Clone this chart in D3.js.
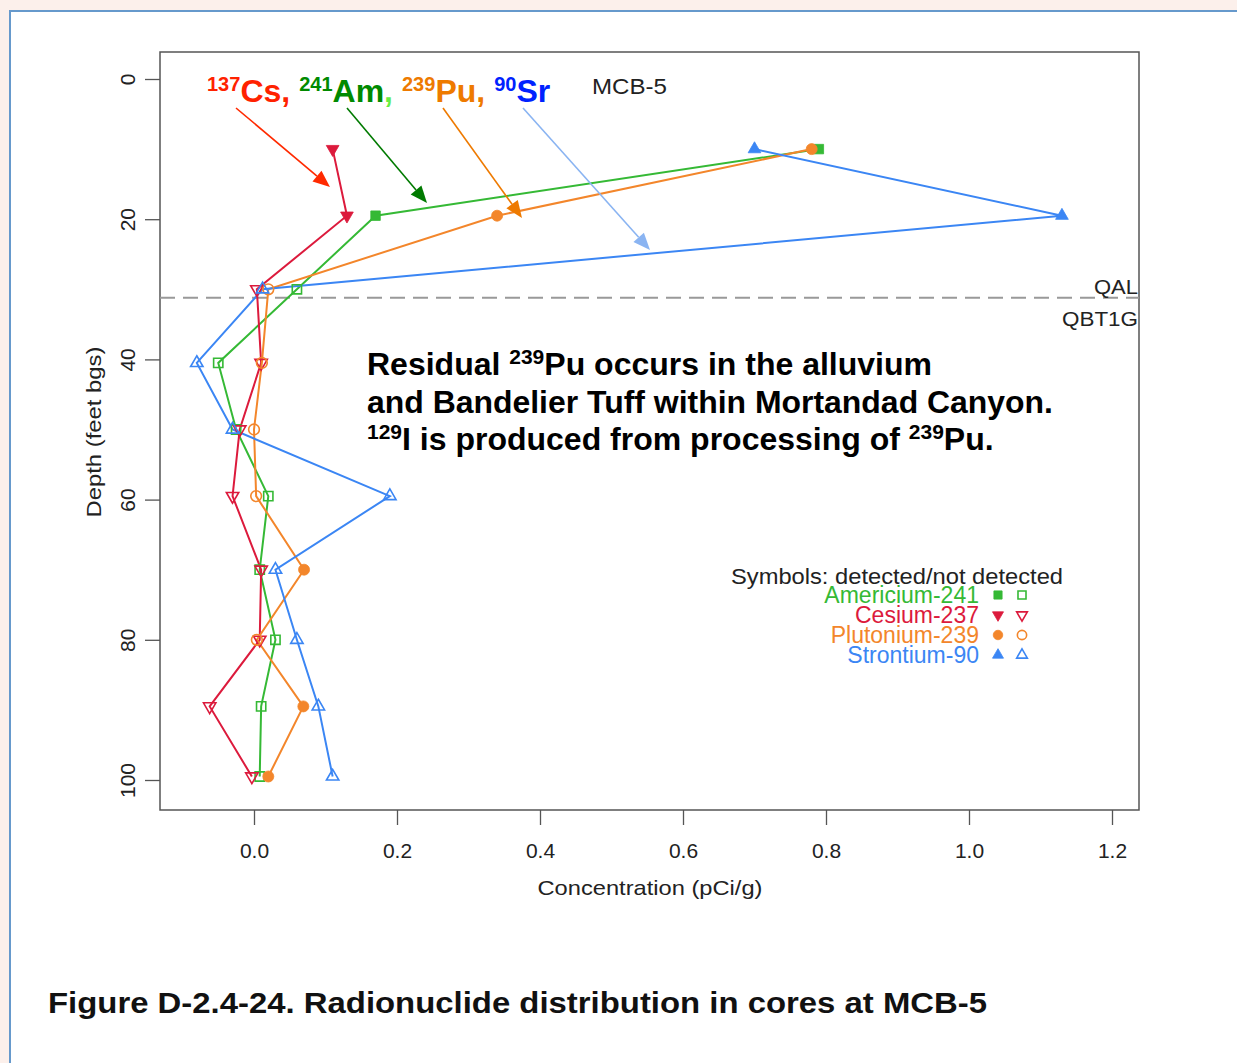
<!DOCTYPE html>
<html>
<head>
<meta charset="utf-8">
<script src="https://cdn.jsdelivr.net/npm/d3@7.9.0/dist/d3.min.js"></script>
<style>
  body { margin: 0; background: #fcf0eb; }
  svg { display: block; font-family: "Liberation Sans", Arial, sans-serif; }
</style>
</head>
<body>
<script>
// depths (feet bgs) shared by all cores
const depths = [10, 19.5, 30, 40.5, 50, 59.5, 70, 80, 89.5, 99.5];

// concentrations (pCi/g) and detected flags
const americium = [0.79, 0.17, 0.06, -0.05, -0.025, 0.02, 0.008, 0.03, 0.01, 0.008];
const americiumDet = [1, 1, 0, 0, 0, 0, 0, 0, 0, 0];
const cesium = [0.11, 0.13, 0.004, 0.01, -0.02, -0.03, 0.01, 0.008, -0.062, -0.003];
const cesiumDet = [1, 1, 0, 0, 0, 0, 0, 0, 0, 0];
const plutonium = [0.78, 0.34, 0.02, 0.011, 0.0, 0.003, 0.07, 0.004, 0.069, 0.02];
const plutoniumDet = [1, 1, 0, 0, 0, 0, 1, 0, 1, 1];
const strontium = [0.70, 1.13, 0.012, -0.08, -0.03, 0.19, 0.03, 0.06, 0.09, 0.11];
const strontiumDet = [1, 1, 0, 0, 0, 0, 0, 0, 0, 0];

const xTicks = [0, 0.2, 0.4, 0.6, 0.8, 1.0, 1.2];
const yTicks = [0, 20, 40, 60, 80, 100];
const contactDepth = 31.2;

const series = [
  { name: "Americium-241", vals: americium, det: americiumDet, color: "#35b935", shape: "square" },
  { name: "Cesium-237", vals: cesium, det: cesiumDet, color: "#dc1a3c", shape: "down" },
  { name: "Plutonium-239", vals: plutonium, det: plutoniumDet, color: "#f3862b", shape: "circle" },
  { name: "Strontium-90", vals: strontium, det: strontiumDet, color: "#3b86f4", shape: "up" }
];

const W = 1237, H = 1063;
const svg = d3.select("body").append("svg").attr("width", W).attr("height", H);

// stretch a text to the width seen in the picture
function fit(sel, w) {
  return sel.attr("textLength", w).attr("lengthAdjust", "spacingAndGlyphs");
}

// page frame
svg.append("rect").attr("x", 10).attr("y", 11).attr("width", W).attr("height", H)
  .attr("fill", "#fff").attr("stroke", "#6699cc").attr("stroke-width", 2);

const box = { left: 160, right: 1139, top: 52, bottom: 810 };
const x = d3.scaleLinear().domain([0, 1.2]).range([254, 1112]);
const y = d3.scaleLinear().domain([0, 100]).range([79, 780]);

// plot box
svg.append("rect").attr("x", box.left).attr("y", box.top)
  .attr("width", box.right - box.left).attr("height", box.bottom - box.top)
  .attr("fill", "none").attr("stroke", "#555").attr("stroke-width", 1.5);

// axes
const xAxis = svg.append("g").attr("transform", `translate(0,${box.bottom})`)
  .call(d3.axisBottom(x).tickValues(xTicks).tickFormat(d3.format(".1f")).tickSize(15).tickPadding(18));
const yAxis = svg.append("g").attr("transform", `translate(${box.left},0)`)
  .call(d3.axisLeft(y).tickValues(yTicks).tickSize(15));
[xAxis, yAxis].forEach(a => {
  a.select(".domain").remove();
  a.selectAll(".tick line").attr("stroke", "#555").attr("stroke-width", 1.3);
  a.selectAll("text").attr("font-size", 21).attr("fill", "#222").attr("font-family", "Liberation Sans, Arial, sans-serif");
});
yAxis.selectAll(".tick text")
  .attr("x", null).attr("y", 0).attr("text-anchor", "middle")
  .attr("transform", "translate(-32,0) rotate(-90)").attr("dy", "0.35em");

fit(svg.append("text").attr("x", 650).attr("y", 895).attr("text-anchor", "middle")
  .attr("font-size", 21).attr("fill", "#222").text("Concentration (pCi/g)"), 225);
fit(svg.append("text").attr("transform", "translate(101,432) rotate(-90)").attr("text-anchor", "middle")
  .attr("font-size", 21).attr("fill", "#222").text("Depth (feet bgs)"), 171);

// contact line QAL / QBT1G
svg.append("line").attr("x1", box.left).attr("x2", box.right)
  .attr("y1", y(contactDepth)).attr("y2", y(contactDepth))
  .attr("stroke", "#999").attr("stroke-width", 2).attr("stroke-dasharray", "15,8");
fit(svg.append("text").attr("x", 1138).attr("y", y(contactDepth) - 4).attr("text-anchor", "end")
  .attr("font-size", 20).attr("fill", "#222").text("QAL"), 44);
fit(svg.append("text").attr("x", 1138).attr("y", y(contactDepth) + 28).attr("text-anchor", "end")
  .attr("font-size", 20).attr("fill", "#222").text("QBT1G"), 76);

// symbol helper
function marker(g, shape, color, filled, cx, cy, scale) {
  const s = scale || 1;
  let type = d3.symbolSquare, size = 90 * s, rot = 0;
  if (shape === "circle") { type = d3.symbolCircle; size = 95 * s; }
  if (shape === "up") { type = d3.symbolTriangle; size = 70 * s; }
  if (shape === "down") { type = d3.symbolTriangle; size = 70 * s; rot = 180; }
  if (!filled) size *= 0.95;
  g.append("path")
    .attr("d", d3.symbol().type(type).size(size)())
    .attr("transform", `translate(${cx},${cy}) rotate(${rot})`)
    .attr("fill", filled ? color : "none")
    .attr("stroke", color).attr("stroke-width", filled ? 0.8 : 1.6);
}

const line = d3.line().x(d => x(d[0])).y(d => y(d[1]));
series.forEach(s => {
  const pts = s.vals.map((v, i) => [v, depths[i]]);
  svg.append("path").datum(pts).attr("d", line)
    .attr("fill", "none").attr("stroke", s.color).attr("stroke-width", 2);
});
series.forEach(s => {
  const g = svg.append("g");
  s.vals.forEach((v, i) => marker(g, s.shape, s.color, s.det[i] === 1, x(v), y(depths[i])));
});

// title labels with superscripts
const head = svg.append("text").attr("x", 207).attr("y", 102).attr("font-weight", "bold");
[
  ["137", "Cs,", "#ff2200", "#ff2200"],
  ["241", "Am", "#008a00", "#008a00"],
  [null, ",", "#66ee44", "#66ee44"],
  ["239", "Pu,", "#ee7a00", "#ee7a00"],
  ["90", "Sr", "#0022ff", "#0022ff"]
].forEach((p, i) => {
  if (p[0]) head.append("tspan").attr("dx", i === 0 ? 0 : 9).attr("dy", -11).attr("font-size", 20).attr("fill", p[2]).text(p[0]);
  head.append("tspan").attr("dy", p[0] ? 11 : 0).attr("font-size", 32).attr("fill", p[3]).text(p[1]);
});
fit(svg.append("text").attr("x", 592).attr("y", 94).attr("font-size", 22).attr("fill", "#222").text("MCB-5"), 75);

// arrows
const arrows = [
  { from: [236, 108], to: [330, 187], color: "#ff2a00" },
  { from: [347, 108], to: [427, 203], color: "#007a00" },
  { from: [443, 108], to: [522, 218], color: "#ee7a00" },
  { from: [523, 108], to: [650, 250], color: "#8ab4f2" }
];
arrows.forEach(a => {
  const dx = a.to[0] - a.from[0], dy = a.to[1] - a.from[1];
  const len = Math.hypot(dx, dy), ux = dx / len, uy = dy / len;
  const hl = 17, hw = 7;
  const bx = a.to[0] - ux * hl, by = a.to[1] - uy * hl;
  svg.append("line").attr("x1", a.from[0]).attr("y1", a.from[1]).attr("x2", bx).attr("y2", by)
    .attr("stroke", a.color).attr("stroke-width", 1.6);
  svg.append("path")
    .attr("d", `M${a.to[0]},${a.to[1]}L${bx - uy * hw},${by + ux * hw}L${bx + uy * hw},${by - ux * hw}Z`)
    .attr("fill", a.color);
});

// annotation text
const note = svg.append("g").attr("font-weight", "bold").attr("fill", "#000").attr("font-size", 32);
const n1 = note.append("text").attr("x", 367).attr("y", 375);
n1.append("tspan").text("Residual ");
n1.append("tspan").attr("dy", -11).attr("font-size", 21).text("239");
n1.append("tspan").attr("dy", 11).text("Pu occurs in the alluvium");
fit(note.append("text").attr("x", 367).attr("y", 413).attr("font-size", 31).text("and Bandelier Tuff within Mortandad Canyon."), 686);
const n3 = note.append("text").attr("x", 367).attr("y", 450);
n3.append("tspan").attr("dy", -11).attr("font-size", 21).text("129");
n3.append("tspan").attr("dy", 11).text("I is produced from processing of ");
n3.append("tspan").attr("dy", -11).attr("font-size", 21).text("239");
n3.append("tspan").attr("dy", 11).text("Pu.");

// legend
fit(svg.append("text").attr("x", 1063).attr("y", 584).attr("text-anchor", "end")
  .attr("font-size", 22).attr("fill", "#222").text("Symbols: detected/not detected"), 332);
series.forEach((s, i) => {
  const ly = 603 + i * 20;
  svg.append("text").attr("x", 979).attr("y", ly).attr("text-anchor", "end")
    .attr("font-size", 23).attr("fill", s.color).text(s.name);
  const g = svg.append("g");
  marker(g, s.shape, s.color, true, 998, ly - 8, 0.75);
  marker(g, s.shape, s.color, false, 1022, ly - 8, 0.75);
});

// caption
fit(svg.append("text").attr("x", 48).attr("y", 1013).attr("font-weight", "bold")
  .attr("font-size", 30).attr("fill", "#111")
  .text("Figure D-2.4-24. Radionuclide distribution in cores at MCB-5"), 939);
</script>
</body>
</html>
